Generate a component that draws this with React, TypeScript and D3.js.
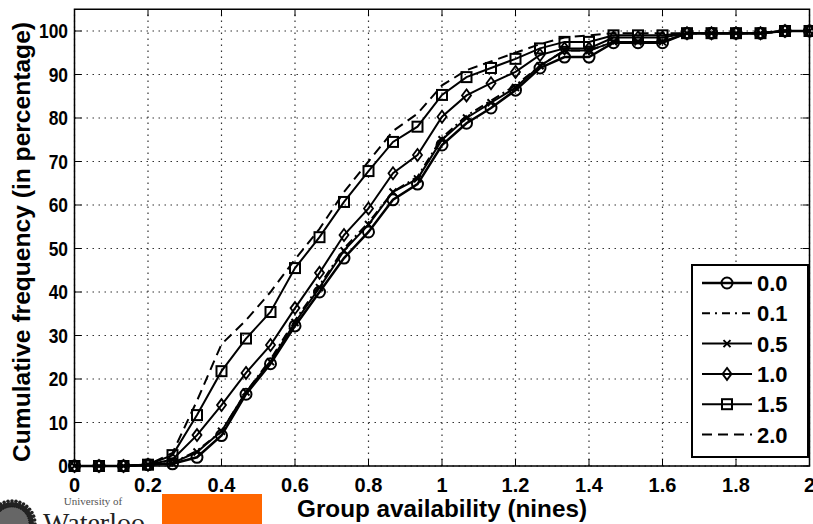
import React from "react";
import * as d3 from "d3";

const xValues: number[] = d3.range(0, 31).map((k) => k / 15);
const seriesNames: string[] = ["0.0", "0.1", "0.5", "1.0", "1.5", "2.0"];
const s00: number[] = [0, 0, 0, 0.3, 0.5, 2, 7, 16.5, 23.5, 32.2, 40, 47.8, 53.8, 61.2, 64.8, 73.8, 78.8, 82.3, 86.4, 91.5, 94, 94, 97.3, 97.3, 97.3, 99.5, 99.5, 99.5, 99.5, 100, 100];
const s01: number[] = [0, 0, 0, 0.3, 0.7, 3.5, 8, 17, 24.5, 33.5, 41.5, 50, 56, 63, 66.5, 75.5, 80.5, 84, 87.5, 92, 95.5, 95.5, 97.5, 97.5, 97.5, 99.5, 99.5, 99.5, 99.5, 100, 100];
const s05: number[] = [0, 0, 0, 0.3, 0.7, 3.2, 8, 17, 24, 33, 41, 49.5, 55.5, 63, 66, 75, 80, 83.5, 87, 92, 95.5, 95.5, 97.5, 97.5, 97.5, 99.5, 99.5, 99.5, 99.5, 100, 100];
const s10: number[] = [0, 0, 0, 0.3, 1.5, 7.1, 14, 21.4, 27.8, 36.3, 44.4, 53.1, 59.2, 67.3, 71.5, 80.3, 85.2, 88, 90.6, 94.5, 96, 96, 98.5, 98.5, 98.5, 99.5, 99.5, 99.5, 99.5, 100, 100];
const s15: number[] = [0, 0, 0, 0.3, 2.5, 11.7, 21.8, 29.3, 35.4, 45.5, 52.6, 60.7, 67.8, 74.5, 78, 85.3, 89.4, 91.5, 93.6, 96, 97.5, 97.5, 99, 99, 99, 99.5, 99.5, 99.5, 99.5, 100, 100];
const s20: number[] = [0, 0, 0, 0.3, 3, 15, 28, 33.5, 40, 47.5, 54.5, 63, 70, 77, 81, 87.5, 91, 93, 95, 97, 98.5, 99, 99.5, 99.5, 99.5, 99.5, 99.5, 99.5, 99.5, 100, 100];
const xTicks: number[] = [0, 0.2, 0.4, 0.6, 0.8, 1, 1.2, 1.4, 1.6, 1.8, 2];
const yTicks: number[] = [0, 10, 20, 30, 40, 50, 60, 70, 80, 90, 100];
const xLabel = "Group availability (nines)";
const yLabel = "Cumulative frequency (in percentage)";

type Style = { dash: string; marker: string; width: number };
const styles: Style[] = [
  { dash: "none", marker: "circle", width: 2.5 },
  { dash: "9,4,2,4", marker: "none", width: 2 },
  { dash: "none", marker: "x", width: 2 },
  { dash: "none", marker: "diamond", width: 2 },
  { dash: "none", marker: "square", width: 2 },
  { dash: "10,6", marker: "none", width: 2 },
];
const allSeries = [s00, s01, s05, s10, s15, s20];

const FONT = "'Liberation Sans', Arial, sans-serif";

function Marker({ type, cx, cy }: { type: string; cx: number; cy: number }) {
  if (type === "circle") return <circle cx={cx} cy={cy} r={5.5} fill="none" stroke="#000" strokeWidth={2} />;
  if (type === "square") return <rect x={cx - 5} y={cy - 5} width={10} height={10} fill="none" stroke="#000" strokeWidth={2} />;
  if (type === "diamond") return <path d={`M${cx},${cy - 6}L${cx + 4.5},${cy}L${cx},${cy + 6}L${cx - 4.5},${cy}Z`} fill="none" stroke="#000" strokeWidth={1.8} />;
  if (type === "x") return <path d={`M${cx - 3.5},${cy - 3.5}L${cx + 3.5},${cy + 3.5}M${cx - 3.5},${cy + 3.5}L${cx + 3.5},${cy - 3.5}`} stroke="#000" strokeWidth={2} />;
  return null;
}

export default function App() {
  const W = 813, H = 524;
  const left = 74.5, right = 809.5, top = 9.25, bottom = 466;
  const x = d3.scaleLinear().domain([0, 2]).range([left, right]);
  const y = d3.scaleLinear().domain([0, 105]).range([bottom, top]);
  const line = d3.line<number>().x((_, i) => x(xValues[i])).y((d) => y(d));
  const tickLen = 7;

  const legX = 692, legY = 265, legW = 116, legH = 192;
  const legRowY = (i: number) => legY + 18 + i * 30.3;

  const gearTeeth = d3.range(0, 36);

  return (
    <svg width={W} height={H} style={{ position: "absolute", left: 0, top: 0, display: "block" }}>
      <rect x={0} y={0} width={W} height={H} fill="#fff" />
      {/* grid */}
      {xTicks.map((t) => (
        <line key={"gx" + t} x1={x(t)} x2={x(t)} y1={bottom} y2={top} stroke="#333" strokeWidth={1.2} strokeDasharray="1.5,4.5" />
      ))}
      {yTicks.map((t) => (
        <line key={"gy" + t} x1={left} x2={right} y1={y(t)} y2={y(t)} stroke="#333" strokeWidth={1.2} strokeDasharray="1.5,4.5" />
      ))}
      {/* ticks */}
      {xTicks.map((t) => (
        <g key={"tx" + t}>
          <line x1={x(t)} x2={x(t)} y1={bottom} y2={bottom - tickLen} stroke="#000" strokeWidth={1} />
          <line x1={x(t)} x2={x(t)} y1={top} y2={top + tickLen} stroke="#000" strokeWidth={1} />
          <text x={x(t)} y={492} textAnchor="middle" fontFamily={FONT} fontWeight="bold" fontSize={20}>{String(t)}</text>
        </g>
      ))}
      {yTicks.map((t) => (
        <g key={"ty" + t}>
          <line x1={left} x2={left + tickLen} y1={y(t)} y2={y(t)} stroke="#000" strokeWidth={1} />
          <line x1={right} x2={right - tickLen} y1={y(t)} y2={y(t)} stroke="#000" strokeWidth={1} />
          <g transform={`translate(68,${y(t) + 7}) scale(0.87,1)`}>
            <text x={0} y={0} textAnchor="end" fontFamily={FONT} fontWeight="bold" fontSize={20}>{String(t)}</text>
          </g>
        </g>
      ))}
      {/* series */}
      {allSeries.map((s, si) => (
        <g key={"s" + si}>
          <path d={line(s) || ""} fill="none" stroke="#000" strokeWidth={styles[si].width} strokeDasharray={styles[si].dash} />
          {s.map((v, i) => (
            <Marker key={i} type={styles[si].marker} cx={x(xValues[i])} cy={y(v)} />
          ))}
        </g>
      ))}
      {/* axes box */}
      <rect x={left} y={top} width={right - left} height={bottom - top} fill="none" stroke="#000" strokeWidth={1.5} />
      {/* legend */}
      <rect x={legX} y={legY} width={legW} height={legH} fill="#fff" stroke="#000" strokeWidth={2} />
      {seriesNames.map((n, i) => (
        <g key={"l" + i}>
          <line x1={702} x2={752} y1={legRowY(i)} y2={legRowY(i)} stroke="#000" strokeWidth={styles[i].width} strokeDasharray={styles[i].dash === "9,4,2,4" ? "8,5,2,5" : styles[i].dash} />
          <Marker type={styles[i].marker} cx={727} cy={legRowY(i)} />
          <text x={757} y={legRowY(i) + 8} fontFamily={FONT} fontWeight="bold" fontSize={22}>{n}</text>
        </g>
      ))}
      {/* axis labels */}
      <text x={442} y={517} textAnchor="middle" fontFamily={FONT} fontWeight="bold" fontSize={24} textLength={290} lengthAdjust="spacingAndGlyphs">{xLabel}</text>
      <text transform={`translate(30,242) rotate(-90)`} textAnchor="middle" fontFamily={FONT} fontWeight="bold" fontSize={24} textLength={440} lengthAdjust="spacingAndGlyphs">{yLabel}</text>
      {/* logo */}
      <g>
        <circle cx={12} cy={524} r={22} fill="#222" />
        {gearTeeth.map((i) => {
          const a = (i / 36) * Math.PI * 2;
          return <circle key={i} cx={12 + Math.cos(a) * 23} cy={524 + Math.sin(a) * 23} r={1.8} fill="#222" />;
        })}
        <circle cx={12} cy={524} r={17} fill="#666" />
        <circle cx={12} cy={524} r={17} fill="none" stroke="#111" strokeWidth={1} strokeDasharray="1,1" />
        <text x={93} y={505} textAnchor="middle" fontFamily="'Liberation Serif', serif" fontSize={11} fill="#555">University of</text>
        <text x={94} y={532} textAnchor="middle" fontFamily="'Liberation Serif', serif" fontSize={28} fill="#222">Waterloo</text>
      </g>
      <rect x={162} y={494} width={100} height={30} fill="#ff6600" />
    </svg>
  );
}
